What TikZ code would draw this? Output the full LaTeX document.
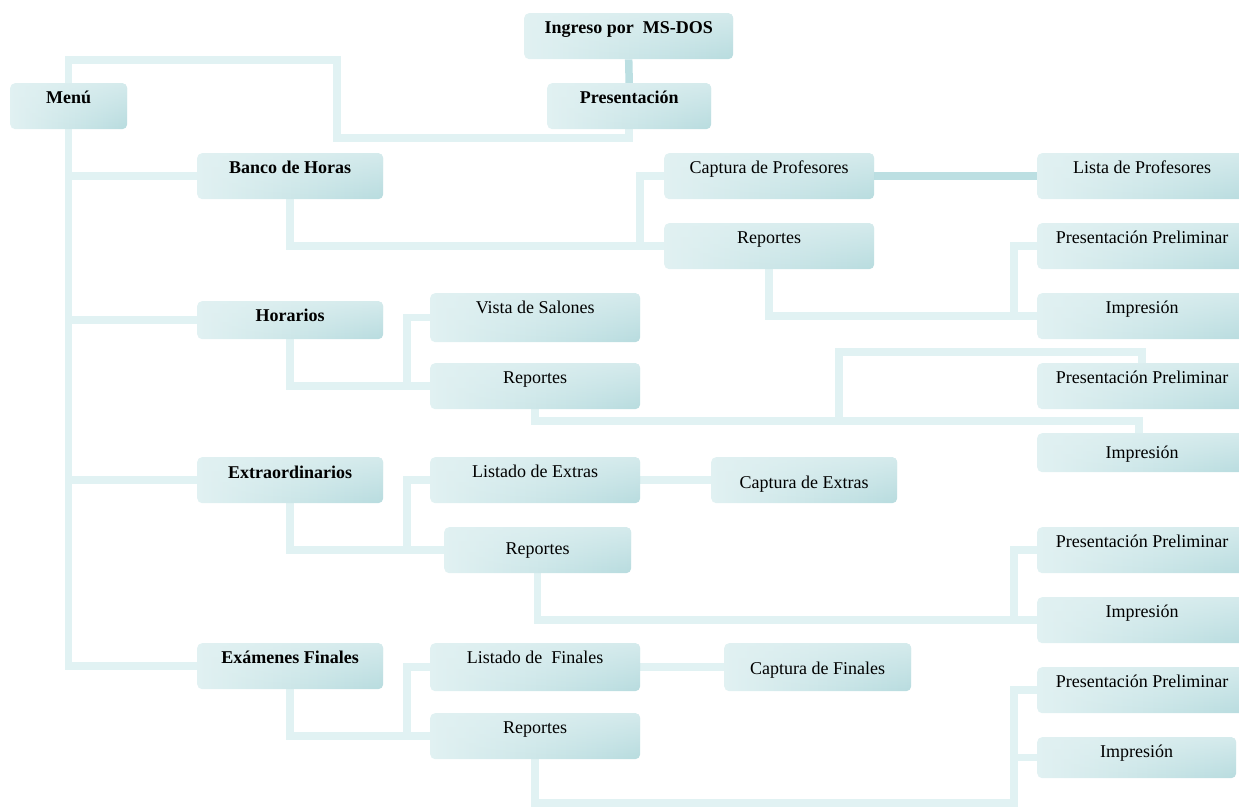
\documentclass[tikz,border=0pt]{standalone}
\usepackage{fontspec}
\setmainfont{Liberation Serif}
\usetikzlibrary{backgrounds,fadings}

\definecolor{linklight}{HTML}{E1F2F3}
\definecolor{linkdark}{HTML}{BCDFE2}
\definecolor{boxL}{HTML}{E1F1F2}
\definecolor{boxR}{HTML}{B8DCDF}

\tikzset{
  box/.style={anchor=north west, inner sep=0pt, rounded corners=5pt,
    left color=boxL, right color=boxR,
    path picture={\fill[boxL, fill opacity=0.7, path fading=south]
      (path picture bounding box.north west) rectangle (path picture bounding box.south east);},
    minimum width=210pt, minimum height=46pt},
  lab/.style={anchor=north, inner sep=0pt, text height=12pt, text depth=4pt,
    yshift=-8pt, font=\fontsize{18}{20}\selectfont},
  blab/.style={lab, font=\fontsize{18}{20}\selectfont\bfseries},
  link/.style={draw=linklight, line width=7.5pt, line join=miter},
  darklink/.style={link, draw=linkdark},
}

\begin{document}
\begin{tikzpicture}[x=1pt, y=-1pt]
\useasboundingbox (0,0) rectangle (1239,806);

% top and left column
\node[box, minimum width=117pt, label={[blab]north:Menú}] (menu) at (10,83) {};
\node[box, minimum width=209pt, label={[blab]north:Ingreso por\ \ MS-DOS}] (ingreso) at (524,13) {};
\node[box, minimum width=164pt, label={[blab]north:Presentación}] (pres) at (547,83) {};
\node[box, minimum width=186pt, label={[blab]north:Banco de Horas}] (banco) at (197,153) {};
\node[box, minimum width=186pt, minimum height=38pt, label={[blab]north:Horarios}] (hor) at (197,301) {};
\node[box, minimum width=186pt, label={[blab, yshift=-1.5pt]north:Extraordinarios}] (extra) at (197,457) {};
\node[box, minimum width=186pt, label={[blab]north:Exámenes Finales}] (exa) at (197,643) {};

% Banco de Horas branch
\node[box, label={[lab]north:Captura de Profesores}] (cprof) at (664,153) {};
\node[box, label={[lab]north:Reportes}] (rep1) at (664,223) {};
\node[box, label={[lab]north:Lista de Profesores}] (lprof) at (1037,153) {};
\node[box, label={[lab]north:Presentación Preliminar}] (pp1) at (1037,223) {};
\node[box, label={[lab]north:Impresión}] (imp1) at (1037,293) {};

% Horarios branch
\node[box, minimum height=49pt, label={[lab]north:Vista de Salones}] (vista) at (430,293) {};
\node[box, label={[lab]north:Reportes}] (rep2) at (430,363) {};
\node[box, label={[lab]north:Presentación Preliminar}] (pp2) at (1037,363) {};
\node[box, minimum height=39pt, label={[lab, yshift=-5pt]north:Impresión}] (imp2) at (1037,433) {};

% Extraordinarios branch
\node[box, label={[lab]north:Listado de Extras}] (lext) at (430,457) {};
\node[box, minimum width=186pt, label={[lab, yshift=-11pt]north:Captura de Extras}] (cext) at (711,457) {};
\node[box, minimum width=187pt, label={[lab, yshift=-7pt]north:Reportes}] (rep3) at (444,527) {};
\node[box, label={[lab]north:Presentación Preliminar}] (pp3) at (1037,527) {};
\node[box, label={[lab]north:Impresión}] (imp3) at (1037,597) {};

% Exámenes Finales branch
\node[box, minimum height=48pt, label={[lab]north:Listado de\ \ Finales}] (lfin) at (430,643) {};
\node[box, minimum width=187pt, minimum height=48pt, label={[lab, yshift=-11pt]north:Captura de Finales}] (cfin) at (724,643) {};
\node[box, label={[lab]north:Reportes}] (rep4) at (430,713) {};
\node[box, label={[lab]north:Presentación Preliminar}] (pp4) at (1037,667) {};
\node[box, minimum width=199pt, minimum height=41pt, label={[lab]north:Impresión}] (imp4) at (1037,737) {};

\coordinate (h2) at (839,421);
\coordinate (h2top) at (839,352);
\coordinate (b4) at (1014,803);

\begin{scope}[on background layer]
  % Menú to Presentación
  \draw[link] (menu.north) |- (337,60) -- (337,138) -| (pres.south);
  \draw[darklink] (ingreso.south) -- (pres.north);
  % main trunk
  \draw[link] (menu.south) -- (menu.south |- exa.west) -- (exa.west);
  \draw[link] (menu.south |- banco.west) -- (banco.west);
  \draw[link] (menu.south |- hor.west) -- (hor.west);
  \draw[link] (menu.south |- extra.west) -- (extra.west);
  % Banco de Horas
  \draw[link] (banco.south) |- (rep1.west);
  \draw[link] (cprof.west) -| ([xshift=-24pt]rep1.west);
  \draw[darklink] (cprof.east) -- (lprof.west);
  \draw[link] (rep1.south) |- (imp1.west);
  \draw[link] (pp1.west) -| ([xshift=-23pt]imp1.west);
  % Horarios
  \draw[link] (hor.south) |- (rep2.west);
  \draw[link] (vista.west) -| ([xshift=-23pt]rep2.west);
  \draw[link] (rep2.south) |- (h2) -| ([xshift=-3pt]imp2.north);
  \draw[link] (h2) -- (h2top) -| (pp2.north);
  % Extraordinarios
  \draw[link] (extra.south) |- (rep3.west);
  \draw[link] (lext.west) -| ([xshift=-37pt]rep3.west);
  \draw[link] (lext.east) -- (cext.west);
  \draw[link] (rep3.south) |- (imp3.west);
  \draw[link] (pp3.west) -| ([xshift=-23pt]imp3.west);
  % Exámenes Finales
  \draw[link] (exa.south) |- (rep4.west);
  \draw[link] (lfin.west) -| ([xshift=-23pt]rep4.west);
  \draw[link] (lfin.east) -- (cfin.west);
  \draw[link] (rep4.south) |- (b4) |- (pp4.west);
  \draw[link] (imp4.west) -- (imp4.west -| b4);
\end{scope}
\end{tikzpicture}
\end{document}
